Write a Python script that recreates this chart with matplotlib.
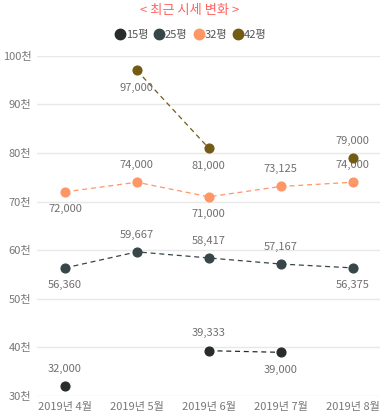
import numpy as np
import matplotlib
matplotlib.use("Agg")
import matplotlib.pyplot as plt
from matplotlib.lines import Line2D

plt.rcParams['font.family'] = ['Noto Sans CJK KR', 'DejaVu Sans']

months = ["2019년 4월", "2019년 5월", "2019년 6월", "2019년 7월", "2019년 8월"]
nan = np.nan
p15 = [32000, nan, 39333, 39000, nan]
p25 = [56360, 59667, 58417, 57167, 56375]
p32 = [72000, 74000, 71000, 73125, 74000]
p42 = [nan, 97000, 81000, nan, 79000]
# label above (+1) or below (-1) the point
pos15 = [1, 0, 1, -1, 0]
pos25 = [-1, 1, 1, 1, -1]
pos32 = [-1, 1, -1, 1, 1]
pos42 = [0, -1, -1, 0, 1]

names = ["15평", "25평", "32평", "42평"]
colors = ["#282c2c", "#374649", "#fe9666", "#735b14"]
series = [p15, p25, p32, p42]
poss = [pos15, pos25, pos32, pos42]

fig = plt.figure(figsize=(3.8, 4.2), dpi=100)
ax = fig.add_axes([0.097, 0.057, 0.903, 0.81])

x = np.arange(len(months))
for vals, pos, c in zip(series, poss, colors):
    ax.plot(x, vals, linestyle=(0, (4, 3)), lw=0.9, color=c, marker="o",
            markersize=6.3, zorder=3)
    for xi, v, p in zip(x, vals, pos):
        if np.isnan(v):
            continue
        ax.annotate(f"{v:,.0f}", (xi, v), xytext=(0, 12.5 * p), textcoords="offset points",
                    ha="center", va="center", fontsize=8, color="#707070")

ax.set_xlim(-0.39, 4.38)
ax.set_ylim(30000, 100000)
ax.set_yticks(range(30000, 100001, 10000))
ax.set_yticklabels([f"{v // 1000}천" for v in range(30000, 100001, 10000)])
ax.set_xticks(x)
ax.set_xticklabels(months)
ax.tick_params(length=0, labelsize=8, labelcolor="#777777", pad=4)
ax.grid(axis="y", color="#e8e8e8", lw=1)
ax.set_axisbelow(True)
for s in ax.spines.values():
    s.set_visible(False)

fig.text(0.5, 0.975, "< 최근 시세 변화 >", ha="center", va="center",
         fontsize=9.5, color="#fd625e")

handles = [Line2D([], [], marker="o", linestyle="", color=c, markersize=7.5) for c in colors]
fig.legend(handles, names, loc="center", bbox_to_anchor=(0.5, 0.917), ncol=4, frameon=False,
           handletextpad=-0.1, columnspacing=0.4, fontsize=8, labelcolor="#555555",
           handlelength=1.2)

fig.savefig("out.png", dpi=100)
